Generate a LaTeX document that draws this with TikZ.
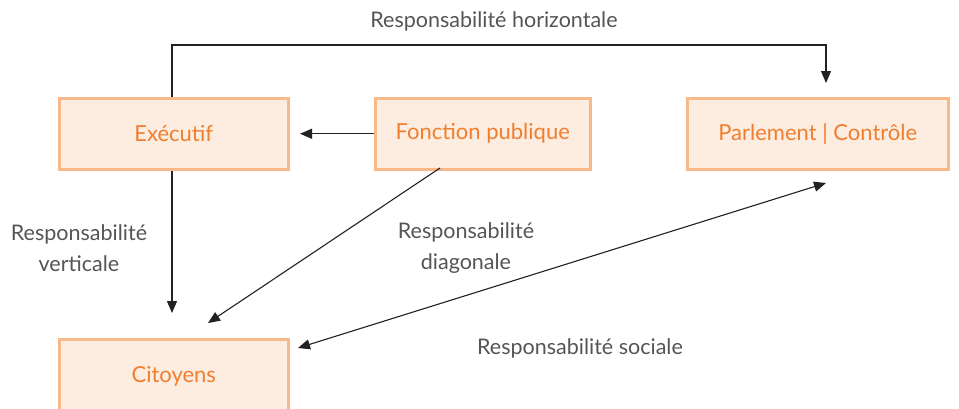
\documentclass[tikz,border=0pt]{standalone}
\usepackage{fontspec}
\setmainfont{Lato}
\usetikzlibrary{arrows.meta}
\definecolor{boxfill}{HTML}{FDEDE0}
\definecolor{boxline}{HTML}{F8B98A}
\definecolor{boxtext}{HTML}{F07E2E}
\definecolor{labtext}{HTML}{555555}
\definecolor{arr}{HTML}{222222}
\tikzset{
  box/.style={draw=boxline, line width=2.5pt, fill=boxfill, text=boxtext, font=\fontsize{22}{26}\selectfont, inner sep=0pt, anchor=north west},
  lab/.style={text=labtext, font=\fontsize{21.5}{31}\selectfont, align=center, inner sep=0pt},
  conn/.style={draw=arr, line width=1.1pt, -{Triangle[length=12pt,width=10pt]}},
}
\begin{document}
\begin{tikzpicture}[x=1pt,y=-1pt]
\useasboundingbox (0,0) rectangle (959,408);
\fill[white] (0,0) rectangle (959,408);
\node[box, minimum width=229pt, minimum height=71pt] (exe) at (58,97) {Exécutif};
\node[box, minimum width=215pt, minimum height=71pt] (fon) at (374,97) {Fonction publique};
\node[box, minimum width=261pt, minimum height=71pt] (par) at (686,97) {Parlement | Contrôle};
\node[box, minimum width=229pt, minimum height=78pt, text depth=7pt] (cit) at (58,338) {Citoyens};
\coordinate (h1) at (172,45);
\coordinate (h2) at (826,45);
\coordinate (parin) at (826,83);
\coordinate (citv) at (172,313);
\coordinate (fonout) at (440,168);
\coordinate (citd) at (208,323);
\coordinate (parb) at (826,183);
\coordinate (cits) at (298,348);
\coordinate (exer) at (300,132);
\draw[conn] (exe.north -| h1) -- (h1) -- (h2) -- (parin);
\draw[conn] (fon.west) -- (fon.west -| exer);
\draw[conn] (exe.south -| h1) -- (citv);
\draw[conn] (fonout) -- (citd);
\draw[conn, {Triangle[length=12pt,width=10pt]}-{Triangle[length=12pt,width=10pt]}] (cits) -- (parb);
\node[lab] (lh) at (494,21) {Responsabilité horizontale};
\node[lab] (lv) at (79,248) {Responsabilité\\verticale};
\node[lab] (ld) at (466,248) {Responsabilité\\diagonale};
\node[lab] (ls) at (580,348) {Responsabilité sociale};
\end{tikzpicture}
\end{document}
